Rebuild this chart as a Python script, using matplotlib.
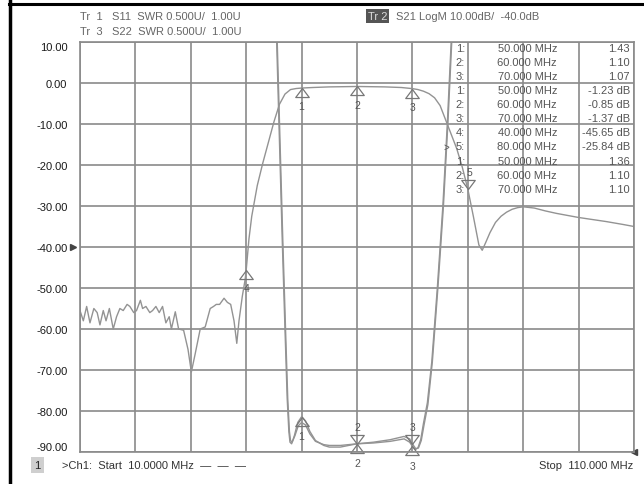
import matplotlib
matplotlib.use("Agg")
import matplotlib.pyplot as plt
import numpy as np
from matplotlib.lines import Line2D
from matplotlib.path import Path

##################################################
# data
# S21 LogM trace (MHz, dB)
s21_f = [10, 10.6, 11.2, 11.8, 12.5, 13.1, 13.6, 14.2, 14.7, 15.3, 16.0, 16.6, 17.2, 17.8,
         18.5, 19.0, 19.7, 20.2, 20.9, 21.3, 21.9, 22.6, 23.1, 23.7, 24.3, 24.9, 25.5, 26.1,
         26.5, 27.2, 27.8, 28.7, 29.5, 30.1, 30.8, 31.7, 32.6, 33.5, 34.1, 34.6, 35.2, 36.0,
         36.6, 37.2, 37.8, 38.3, 38.7, 39.3, 39.8, 40.0, 40.5, 41, 42, 43, 44, 45, 46, 47, 48,
         49, 50, 52, 55, 60, 65, 68, 70, 71, 72, 73, 74, 75, 76, 77, 78, 79, 80, 81, 82, 82.6,
         83.2, 84, 85, 86, 87, 88, 89, 90, 92, 94, 96, 98, 100, 102, 105, 108, 110]
s21_db = [-55.5, -58, -54.5, -58.5, -55, -56, -59, -55.5, -58, -55, -60, -57, -55, -55.5,
          -54, -54.5, -56, -55.5, -53, -55, -54.5, -56, -55.5, -54.5, -56, -54.5, -58.5, -57,
          -60, -55.8, -60, -60.3, -65, -70.5, -66, -60, -59.5, -55, -54.5, -54, -54, -52.5,
          -53.5, -54, -58, -63.5, -58, -52, -48, -45.65, -38, -32.5, -25, -19.5, -14.5, -9.5,
          -5.2, -2.7, -1.6, -1.35, -1.23, -1.1, -0.95, -0.85, -0.95, -1.1, -1.37, -1.6, -2.0,
          -2.6, -3.6, -5.5, -9, -12.5, -16, -20.5, -25.84, -32.5, -39.5, -40.8, -39, -36.5,
          -34, -32.5, -31.5, -30.8, -30.4, -30.2, -30.5, -31.2, -31.8, -32.3, -32.8, -33.2,
          -33.8, -34.5, -35]

# S11 / S22 SWR traces (MHz, SWR)
s11_f = [44.8, 45.5, 46.0, 46.5, 47.0, 47.4, 47.7, 47.9, 48.2, 48.7, 49.3, 50.0, 50.7, 51.5,
         52.5, 54.0, 55.0, 57.0, 60.0, 63.0, 66.0, 68.5, 69.5, 70.0, 70.5, 71.0, 71.5, 72.0,
         72.7, 73.5, 74.5, 75.5, 76.3, 77.0, 77.6]
s11_swr = [7.0, 6.0, 4.8, 3.6, 2.5, 1.65, 1.25, 1.12, 1.1, 1.2, 1.36, 1.43, 1.38, 1.25, 1.14,
           1.08, 1.06, 1.06, 1.10, 1.11, 1.13, 1.16, 1.12, 1.07, 1.03, 1.05, 1.15, 1.35, 1.6,
           2.1, 3.0, 4.0, 5.0, 6.0, 7.0]
s22_f = [44.9, 45.6, 46.1, 46.6, 47.1, 47.5, 47.8, 48.0, 48.3, 48.8, 49.4, 50.0, 50.7, 51.5,
         52.5, 54.0, 55.0, 57.0, 60.0, 63.0, 66.0, 68.5, 69.5, 70.0, 70.6, 71.1, 71.6, 72.1,
         72.8, 73.6, 74.6, 75.6, 76.4, 77.1, 77.7]
s22_swr = [7.0, 6.0, 4.8, 3.6, 2.5, 1.65, 1.25, 1.14, 1.12, 1.2, 1.32, 1.36, 1.33, 1.22, 1.13,
           1.09, 1.08, 1.08, 1.10, 1.12, 1.15, 1.19, 1.16, 1.10, 1.04, 1.05, 1.14, 1.33, 1.58,
           2.1, 3.0, 4.0, 5.0, 6.0, 7.0]

# markers
s21_mk_id = ['1', '2', '3', '4', '5']
s21_mk_f = [50, 60, 70, 40, 80]
s21_mk_v = [-1.23, -0.85, -1.37, -45.65, -25.84]
swr_mk_id = ['1', '2', '3']
swr_mk_f = [50, 60, 70]
s11_mk_v = [1.43, 1.10, 1.07]
s22_mk_v = [1.36, 1.10, 1.10]

# marker table
tab_id = ['1:', '2:', '3:', '1:', '2:', '3:', '4:', '5:', '1:', '2:', '3:']
tab_f = ['50.000 MHz', '60.000 MHz', '70.000 MHz', '50.000 MHz', '60.000 MHz', '70.000 MHz',
         '40.000 MHz', '80.000 MHz', '50.000 MHz', '60.000 MHz', '70.000 MHz']
tab_v = ['1.43', '1.10', '1.07', '-1.23 dB', '-0.85 dB', '-1.37 dB', '-45.65 dB', '-25.84 dB',
         '1.36', '1.10', '1.10']

yticks = list(range(-90, 11, 10))
##################################################

W, H = 644, 485
def fx(x):
    return x / W
def fy(y):
    return 1 - y / H

# SWR 0.5U/div, ref 1.00U on the bottom line
def swr2grid(v):
    return -90 + (np.asarray(v) - 1.0) / 0.5 * 10

plt.rcParams['font.family'] = ['Liberation Sans', 'DejaVu Sans']
fig = plt.figure(figsize=(W / 100, H / 100), dpi=100)
ax = fig.add_axes([fx(80), fy(453), (634 - 80) / W, (453 - 43) / H])

gridc = '#8a8a8a'
tracec = '#939393'
txtc = '#555555'

ax.set_xlim(10, 110)
ax.set_ylim(-90, 10)
ax.set_xticks(np.arange(10, 111, 10))
ax.set_yticks(yticks)
ax.set_xticklabels([])
ax.set_yticklabels([f"{v:.2f}" for v in yticks], fontsize=8, color='#1a1a1a')
ax.tick_params(length=0, pad=9)
labs = ax.get_yticklabels()
labs[0].set_va('bottom')
labs[-1].set_va('top')
ax.grid(True, color=gridc, lw=1.2)
ax.set_axisbelow(True)
for s in ax.spines.values():
    s.set_color(gridc)
    s.set_linewidth(1.2)

# traces
ax.plot(s21_f, s21_db, color=tracec, lw=1.0)
ax.plot(s11_f, swr2grid(s11_swr), color=tracec, lw=1.0)
ax.plot(s22_f, swr2grid(s22_swr), color=tracec, lw=1.0)

# triangle markers with the tip on the trace
up = Path([(0, 0), (-0.75, -1), (0.75, -1), (0, 0)], [1, 2, 2, 79])
dn = Path([(0, 0), (-0.75, 1), (0.75, 1), (0, 0)], [1, 2, 2, 79])
mkc = '#777777'
msz = 13
for i in range(len(s21_mk_id)):
    m = dn if s21_mk_id[i] == '5' else up
    off = 12 if s21_mk_id[i] == '5' else -13
    ax.plot(s21_mk_f[i], s21_mk_v[i], marker=m, ms=msz, mfc='none', mec=mkc, mew=0.9)
    ax.annotate(s21_mk_id[i], (s21_mk_f[i], s21_mk_v[i]), xytext=(1 if i == 4 else 0, off),
                textcoords='offset points', ha='center', va='center', fontsize=7.5,
                color=txtc, annotation_clip=False)
s11_g = swr2grid(s11_mk_v)
s22_g = swr2grid(s22_mk_v)
for i in range(len(swr_mk_id)):
    ax.plot(swr_mk_f[i], s11_g[i], marker=up, ms=msz, mfc='none', mec=mkc, mew=0.9,
            clip_on=False)
    ax.annotate(swr_mk_id[i], (swr_mk_f[i], s11_g[i]), xytext=(0, -14),
                textcoords='offset points', ha='center', va='center', fontsize=7.5,
                color=txtc, annotation_clip=False)
    if i > 0:
        ax.plot(swr_mk_f[i], s22_g[i], marker=dn, ms=msz, mfc='none', mec=mkc, mew=0.9)
        ax.annotate(swr_mk_id[i], (swr_mk_f[i], s22_g[i]), xytext=(0, 12),
                    textcoords='offset points', ha='center', va='center', fontsize=7.5,
                    color=txtc)

# reference position arrows
ax.plot([-0.012], [-40], marker='>', ms=4, color='#444444', transform=ax.get_yaxis_transform(),
        clip_on=False)
ax.plot([1.0], [-90], marker='<', ms=4, color='#444444', transform=ax.get_yaxis_transform(),
        clip_on=False)

# marker table
for i in range(len(tab_id)):
    y = fy(49 + 14.07 * i)
    fig.text(fx(465), y, tab_id[i], ha='right', va='center', fontsize=8, color=txtc)
    fig.text(fx(557), y, tab_f[i], ha='right', va='center', fontsize=8, color=txtc)
    fig.text(fx(630), y, tab_v[i], ha='right', va='center', fontsize=8, color=txtc)
fig.text(fx(446), fy(49 + 14.07 * 7), '>', ha='center', va='center', fontsize=7, color=txtc)

# header
fig.text(fx(80), fy(17), 'Tr  1   S11  SWR 0.500U/  1.00U', ha='left', va='center',
         fontsize=8, color='#666666')
fig.text(fx(80), fy(32), 'Tr  3   S22  SWR 0.500U/  1.00U', ha='left', va='center',
         fontsize=8, color='#666666')
fig.text(fx(368), fy(17), 'Tr 2', ha='left', va='center', fontsize=8, color='#dddddd',
         bbox=dict(boxstyle='square,pad=0.15', fc='#555555', ec='none'))
fig.text(fx(396), fy(17), 'S21 LogM 10.00dB/  -40.0dB', ha='left', va='center',
         fontsize=8, color='#666666')

# footer
fig.text(fx(37.5), fy(466), '1', ha='center', va='center', fontsize=8, color='#222222',
         bbox=dict(boxstyle='square,pad=0.3', fc='#cfcfcf', ec='none'))
fig.text(fx(62), fy(466), '>Ch1:  Start  10.0000 MHz  \u2014  \u2014  \u2014', ha='left',
         va='center', fontsize=8, color='#333333')
fig.text(fx(633), fy(466), 'Stop  110.000 MHz', ha='right', va='center', fontsize=8,
         color='#333333')

# page border lines
fig.add_artist(Line2D([fx(9.5), fx(9.5)], [0, 1], color='black', lw=2.5))
fig.add_artist(Line2D([fx(9), 1], [fy(5), fy(5)], color='black', lw=2.2))

fig.savefig('out.png', dpi=100)
